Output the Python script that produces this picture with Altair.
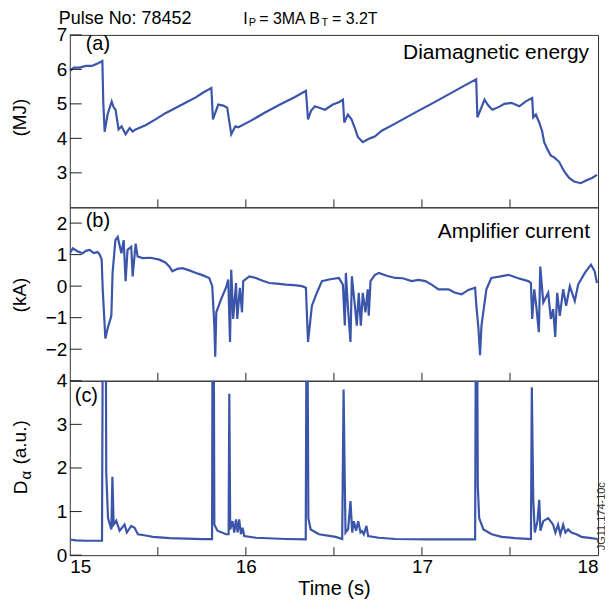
import altair as alt
import pandas as pd

FONT = "Liberation Sans"
BLUE = "#3a55a9"
W = 530
HA, HB, HC = 173, 174, 175

# ---------------- data ----------------
# (a) Diamagnetic energy (MJ)
a_t = [15.000, 15.023, 15.057, 15.091, 15.125, 15.158, 15.185, 15.190, 15.198, 15.215,
       15.238, 15.249, 15.260, 15.277, 15.294, 15.317, 15.340, 15.357, 15.374, 15.430,
       15.487, 15.543, 15.600, 15.657, 15.713, 15.758, 15.804, 15.813, 15.843, 15.872,
       15.894, 15.917, 15.940, 15.957, 16.024, 16.109, 16.194, 16.279, 16.341, 16.353,
       16.370, 16.392, 16.421, 16.449, 16.494, 16.528, 16.551, 16.559, 16.579, 16.600,
       16.619, 16.636, 16.664, 16.704, 16.732, 16.772, 16.845, 16.958, 17.072, 17.185,
       17.241, 17.308, 17.315, 17.338, 17.355, 17.377, 17.400, 17.440, 17.468, 17.508,
       17.553, 17.592, 17.626, 17.632, 17.647, 17.666, 17.683, 17.694, 17.711, 17.732,
       17.751, 17.779, 17.808, 17.836, 17.864, 17.902, 17.932, 17.966, 17.994]
a_v = [5.95, 6.05, 6.05, 6.10, 6.10, 6.17, 6.24, 5.07, 4.19, 4.70,
       5.07, 4.90, 4.83, 4.26, 4.35, 4.12, 4.30, 4.20, 4.26, 4.38,
       4.55, 4.73, 4.88, 5.03, 5.18, 5.33, 5.46, 4.55, 4.98, 4.95,
       4.89, 4.12, 4.35, 4.32, 4.50, 4.75, 4.98, 5.20, 5.38, 4.55,
       4.80, 4.93, 4.88, 4.83, 4.98, 5.05, 5.12, 4.46, 4.69, 4.55,
       4.30, 4.04, 3.89, 4.00, 4.05, 4.22, 4.42, 4.74, 5.05, 5.37,
       5.53, 5.71, 4.61, 4.90, 5.12, 4.95, 4.83, 4.92, 5.00, 5.03,
       4.93, 5.08, 5.17, 4.61, 4.69, 4.46, 4.20, 3.89, 3.70, 3.50,
       3.45, 3.32, 3.04, 2.85, 2.75, 2.70, 2.78, 2.85, 2.94]

# (b) Amplifier current (kA)
b_t = [15.000, 15.017, 15.045, 15.074, 15.091, 15.113, 15.136, 15.158, 15.170, 15.181,
       15.187, 15.202, 15.215, 15.236, 15.243, 15.259, 15.272, 15.293, 15.306, 15.317,
       15.328, 15.349, 15.357, 15.374, 15.385, 15.413, 15.458, 15.509, 15.543, 15.566,
       15.583, 15.611, 15.640, 15.679, 15.717, 15.753, 15.792, 15.809, 15.821, 15.826,
       15.832, 15.859, 15.887, 15.900, 15.910, 15.917, 15.928, 15.944, 15.951, 15.966,
       15.978, 15.985, 16.019, 16.057, 16.092, 16.132, 16.177, 16.227, 16.274, 16.319,
       16.341, 16.347, 16.353, 16.375, 16.404, 16.432, 16.472, 16.528, 16.551, 16.562,
       16.568, 16.579, 16.594, 16.602, 16.619, 16.630, 16.641, 16.653, 16.664, 16.679,
       16.692, 16.698, 16.708, 16.732, 16.755, 16.800, 16.849, 16.891, 16.941, 16.981,
       17.019, 17.055, 17.094, 17.151, 17.185, 17.224, 17.264, 17.302, 17.309, 17.321,
       17.330, 17.338, 17.366, 17.394, 17.440, 17.491, 17.547, 17.604, 17.619, 17.626,
       17.638, 17.649, 17.664, 17.672, 17.689, 17.717, 17.732, 17.745, 17.757, 17.768,
       17.783, 17.802, 17.819, 17.840, 17.868, 17.887, 17.925, 17.960, 17.981, 17.994]
b_v = [1.04, 1.20, 1.10, 1.04, 1.12, 1.15, 1.05, 1.08, 1.00, 0.84,
       -0.10, -1.66, -1.34, -0.94, 0.42, 1.46, 1.56, 1.04, 1.46, 0.16,
       1.15, 1.25, 0.31, 1.35, 0.94, 0.89, 0.90, 0.84, 0.75, 0.62,
       0.47, 0.55, 0.57, 0.50, 0.42, 0.35, 0.26, 0.00, -1.25, -2.24,
       -0.83, -0.42, -0.05, 0.21, -1.77, 0.52, -1.04, 0.10, -1.04, -0.05,
       -0.83, 0.16, 0.31, 0.26, 0.18, 0.10, 0.08, 0.05, 0.03, 0.00,
       -0.05, -0.94, -1.77, -0.62, -0.20, 0.16, 0.21, 0.26, 0.05, -1.25,
       0.42, -0.62, -1.77, 0.31, -0.62, -1.25, -0.21, -1.25, -0.21, -0.83,
       -0.10, -0.94, 0.16, 0.35, 0.42, 0.33, 0.26, 0.25, 0.16, 0.20,
       0.16, 0.05, -0.10, -0.10, -0.20, -0.26, -0.12, -0.05, -0.62, -1.35,
       -2.19, -1.25, -0.10, 0.26, 0.30, 0.36, 0.25, 0.16, 0.10, -1.04,
       -0.10, -0.62, -1.46, 0.62, -0.52, -0.21, -1.04, -0.73, -1.61, -0.21,
       -0.94, -0.10, -0.62, 0.00, -0.47, 0.05, 0.42, 0.68, 0.47, 0.10]

# (c) D-alpha (a.u.) ; values above 4 run off the top of the panel
c_t = [15.000, 15.034, 15.091, 15.183, 15.188, 15.204, 15.207, 15.217, 15.236, 15.242,
       15.249, 15.264, 15.283, 15.311, 15.324, 15.349, 15.368, 15.387, 15.430, 15.472,
       15.566, 15.755, 15.808, 15.811, 15.817, 15.821, 15.839, 15.887, 15.902, 15.906,
       15.911, 15.924, 15.934, 15.944, 15.953, 15.962, 15.972, 15.981, 15.991, 16.057,
       16.227, 16.340, 16.345, 16.349, 16.355, 16.368, 16.415, 16.510, 16.547, 16.555,
       16.562, 16.566, 16.581, 16.594, 16.604, 16.613, 16.626, 16.638, 16.651, 16.660,
       16.670, 16.685, 16.694, 16.755, 16.849, 17.038, 17.302, 17.307, 17.313, 17.317,
       17.325, 17.349, 17.396, 17.453, 17.528, 17.619, 17.624, 17.632, 17.641, 17.656,
       17.666, 17.673, 17.689, 17.717, 17.745, 17.758, 17.773, 17.786, 17.802, 17.815,
       17.830, 17.849, 17.877, 17.906, 17.962, 17.996]
c_v = [0.36, 0.34, 0.33, 0.33, 6.00, 6.00, 1.90, 0.85, 0.59, 1.80,
       0.70, 0.79, 0.56, 0.70, 0.52, 0.67, 0.63, 0.48, 0.45, 0.42,
       0.39, 0.37, 0.37, 6.00, 6.00, 0.70, 0.56, 0.48, 0.48, 3.70,
       0.59, 0.78, 0.52, 0.82, 0.52, 0.82, 0.48, 0.63, 0.44, 0.40,
       0.37, 0.36, 6.00, 6.00, 0.85, 0.59, 0.48, 0.42, 0.37, 3.80,
       1.60, 0.52, 0.60, 1.24, 0.52, 0.78, 0.56, 0.78, 0.52, 0.55,
       0.48, 0.67, 0.44, 0.40, 0.37, 0.36, 0.36, 6.00, 6.00, 1.60,
       0.85, 0.59, 0.48, 0.42, 0.39, 0.37, 3.85, 1.30, 0.52, 0.78,
       1.27, 0.56, 0.78, 0.85, 0.70, 0.52, 0.70, 0.48, 0.70, 0.52,
       0.59, 0.52, 0.48, 0.42, 0.39, 0.37]

x_domain = [15, 18]
x_minor = [15.5, 16.0, 16.5, 17.0, 17.5]
x_labels = [15, 16, 17, 18]
a_domain, a_ticks = [2, 7], [3, 4, 5, 6, 7]
b_domain, b_ticks = [-3, 2.5], [-2, -1, 0, 1, 2]
c_domain, c_ticks = [0, 4], [0, 1, 2, 3, 4]

one = pd.DataFrame({"k": [0]})


def txt(s, x, y, size, align="left", baseline="alphabetic", angle=0, color="black"):
    return alt.Chart(one).mark_text(
        text=s, align=align, baseline=baseline, angle=angle,
        font=FONT, fontSize=size, color=color
    ).encode(x=alt.value(x), y=alt.value(y))


def panel(t, v, ydom, yticks, h, show_x, texts):
    df = pd.DataFrame({"t": t, "v": v})
    xscale = alt.Scale(domain=x_domain, nice=False, zero=False)
    yscale = alt.Scale(domain=ydom, nice=False, zero=False)
    yaxis = alt.Axis(values=yticks, ticks=False, domain=False, grid=False,
                     labelFont=FONT, labelFontSize=19, labelColor="black",
                     labelPadding=3, title=None)
    if show_x:
        xaxis = alt.Axis(values=x_labels, ticks=False, domain=False, grid=False,
                         labelFont=FONT, labelFontSize=19, labelColor="black",
                         labelPadding=2, format="d", labelOverlap=False,
                         title="Time (s)", titleFont=FONT, titleFontSize=20,
                         titleFontWeight="normal", titleColor="black", titlePadding=2)
    else:
        xaxis = None
    X = alt.X("t:Q", scale=xscale, axis=xaxis)
    Y = alt.Y("v:Q", scale=yscale, axis=yaxis)
    line = alt.Chart(df).mark_line(color=BLUE, strokeWidth=2.2, clip=True).encode(x=X, y=Y)
    ytk = alt.Chart(pd.DataFrame({"v": yticks})).mark_rule(color="#222", strokeWidth=1).encode(
        y=Y, x=alt.value(0), x2=alt.value(12))
    xtk = alt.Chart(pd.DataFrame({"t": x_minor})).mark_rule(color="#222", strokeWidth=1).encode(
        x=X, y=alt.value(h - 8), y2=alt.value(h))
    return alt.layer(line, ytk, xtk, *texts).properties(width=W, height=h)


pa = panel(a_t, a_v, a_domain, a_ticks, HA, False, [
    txt("Pulse No: 78452", -11, -11, 18),
    txt("I", 174, -11, 16),
    txt("P", 179.5, -8.5, 11),
    txt("= 3MA B", 190, -11, 16),
    txt("T", 252.5, -8.5, 11),
    txt("= 3.2T", 263, -11, 16),
    txt("(a)", 16, 15, 20),
    txt("Diamagnetic energy", 521, 24, 21, align="right"),
    txt("(MJ)", -50, 83, 19, align="center", baseline="middle", angle=270),
])

pb = panel(b_t, b_v, b_domain, b_ticks, HB, False, [
    txt("(b)", 16, 20, 20),
    txt("Amplifier current", 522, 31, 21, align="right"),
    txt("(kA)", -50, 88, 19, align="center", baseline="middle", angle=270),
])

pc = panel(c_t, c_v, c_domain, c_ticks, HC, True, [
    txt("(c)", 5, 21, 20),
    txt("D", -49, 114, 19, baseline="middle", angle=270),
    txt("α", -44, 99, 15, baseline="middle", angle=270),
    txt("(a.u.)", -50, 84, 19, baseline="middle", angle=270),
    txt("JG11.174-10c", 534, 170, 11, baseline="middle", angle=270, color="#333"),
])

chart = alt.vconcat(pa, pb, pc, spacing=0, bounds="flush").resolve_scale(y="independent").properties(
    padding={"left": 2, "top": 0, "right": -3, "bottom": 2}
).configure_view(stroke="#333", strokeWidth=1)

chart.save("out.html", embed_options={"renderer": "svg", "actions": False})
